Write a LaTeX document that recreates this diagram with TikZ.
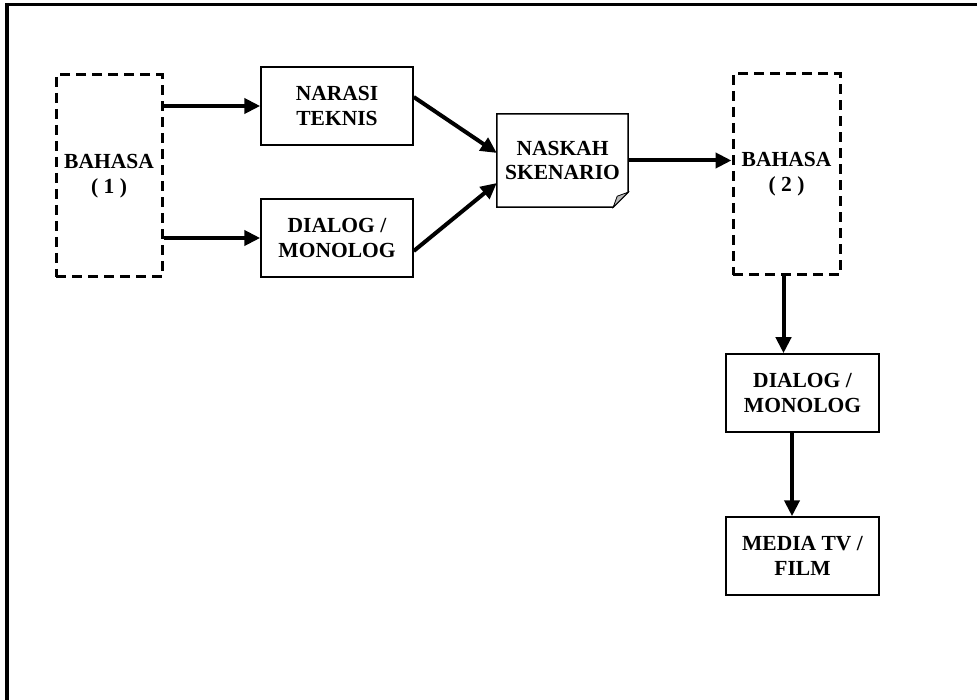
\documentclass[tikz,border=0pt]{standalone}
\usepackage{fontspec}
\setmainfont{Liberation Serif}
\usetikzlibrary{arrows.meta}
\tikzset{
  label font/.style={font=\fontsize{21.5}{25}\selectfont\bfseries},
  box/.style={draw, line width=1.5pt, minimum width=152pt, minimum height=78pt,
    inner sep=0pt, align=center, label font},
  dashbox/.style={draw, line width=3pt, dash pattern=on 10pt off 6pt,
    minimum width=106pt, minimum height=202pt, inner sep=0pt, align=center, label font},
  docbox/.style={minimum width=131pt, minimum height=93pt, inner sep=0pt,
    align=center, font=\fontsize{21.5}{24}\selectfont\bfseries},
  flow/.style={line width=4pt, -{Triangle[length=16pt,width=15pt]}},
}
\begin{document}
\begin{tikzpicture}[x=1pt,y=-1pt]
  \useasboundingbox (0,0) rectangle (977,700);
  % page frame, running off the right and bottom edges
  \draw[line width=3.5pt] (7,4.5) rectangle (995,720);

  % nodes
  \node[dashbox] (bahasa1) at (109,176) {BAHASA\\( 1 )};
  \node[box] (narasi) at (337,106) {NARASI\\TEKNIS};
  \node[box] (dialog1) at (337,238) {DIALOG /\\MONOLOG};
  \node[docbox] (naskah) at (562.5,160.5) {NASKAH\\SKENARIO};
  \node[dashbox, minimum width=107pt, minimum height=201pt] (bahasa2) at (786.5,174.5) {BAHASA\\( 2 )};
  \node[box, minimum width=153pt] (dialog2) at (802.5,393) {DIALOG /\\MONOLOG};
  \node[box, minimum width=153pt] (media) at (802.5,556) {MEDIA TV /\\FILM};

  % document outline with folded corner
  \draw[line width=1.5pt] (naskah.north west) -- (naskah.north east)
    -- ([yshift=15pt]naskah.south east) -- ([xshift=-15pt]naskah.south east)
    -- (naskah.south west) -- cycle;
  \draw[line width=0.8pt, fill=gray!55]
    ([yshift=15pt]naskah.south east) -- ([xshift=-15pt]naskah.south east)
    -- ([xshift=-11pt,yshift=11pt]naskah.south east) -- cycle;

  % connectors
  \draw[flow] (bahasa1.east |- narasi.west) -- (narasi.west);
  \draw[flow] (bahasa1.east |- dialog1.west) -- (dialog1.west);
  \draw[flow] ([yshift=9pt]narasi.east) -- ([yshift=7.5pt]naskah.west);
  \draw[flow] ([yshift=-13pt]dialog1.east) -- ([yshift=-22.5pt]naskah.west);
  \draw[flow] (naskah.east) -- (naskah.east -| bahasa2.west);
  \draw[flow] ([xshift=-3pt]bahasa2.south) -- ([xshift=-3pt]bahasa2.south |- dialog2.north);
  \draw[flow] ([xshift=-10.5pt]dialog2.south) -- ([xshift=-10.5pt]media.north);
\end{tikzpicture}
\end{document}
